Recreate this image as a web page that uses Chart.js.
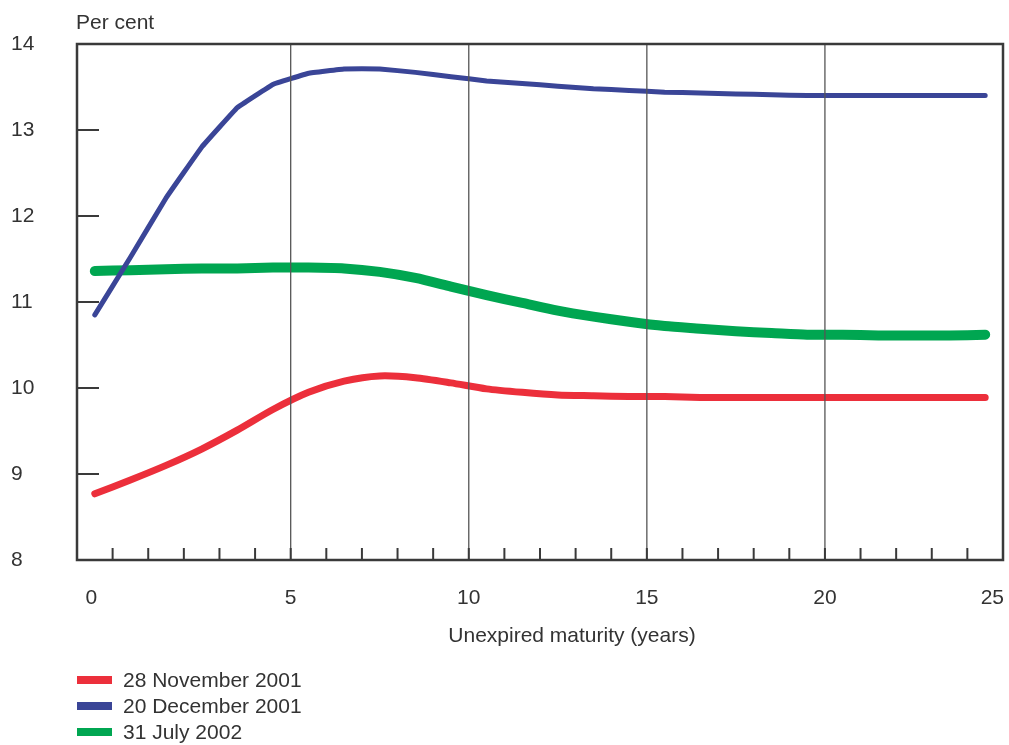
<!DOCTYPE html>
<html><head><meta charset="utf-8">
<script src="https://cdn.jsdelivr.net/npm/chart.js@4"></script>
<style>
html,body{margin:0;padding:0;background:#fff;}
#wrap{position:relative;width:1009px;height:745px;}
#legend{position:absolute;left:77px;top:667px;font:21px "Liberation Sans",Arial,sans-serif;color:#333;}
.item{display:flex;align-items:center;height:26px;white-space:nowrap;}
.sw{width:35px;height:8px;margin-right:11px;}
</style></head>
<body><div id="wrap"><canvas id="c" width="1009" height="745"></canvas><div id="legend"></div></div>
<script>
// x positions of the curve points (years, as plotted)
const maturities = [-0.5,0.5,1.5,2.5,3.5,4.5,5.5,6.5,7.5,8.5,9.5,10.5,11.5,12.5,13.5,14.5,15.5,16.5,17.5,18.5,19.5,20.5,21.5,22.5,23.5,24.5];
const seriesNames = ['28 November 2001','20 December 2001','31 July 2002'];
const seriesColors = ['#ec2f3b','#3a4597','#00a651'];
const nov2001 = [8.77,8.93,9.10,9.29,9.51,9.75,9.95,10.08,10.14,10.12,10.06,9.99,9.95,9.92,9.91,9.90,9.90,9.89,9.89,9.89,9.89,9.89,9.89,9.89,9.89,9.89];
const dec2001 = [10.85,11.52,12.21,12.80,13.26,13.53,13.66,13.71,13.71,13.67,13.62,13.57,13.54,13.51,13.48,13.46,13.44,13.43,13.42,13.41,13.40,13.40,13.40,13.40,13.40,13.40];
const jul2002 = [11.36,11.37,11.38,11.39,11.39,11.40,11.40,11.39,11.35,11.28,11.18,11.08,10.99,10.90,10.83,10.77,10.72,10.69,10.66,10.64,10.62,10.62,10.61,10.61,10.61,10.62];
const xTickLabels = [0,5,10,15,20,25];
const yTicks = [8,9,10,11,12,13,14];
const yUnit = 'Per cent';
const xTitle = 'Unexpired maturity (years)';

const FONT = '"Liberation Sans", Arial, sans-serif';
Chart.defaults.font.family = FONT;
Chart.defaults.font.size = 21;
Chart.defaults.color = '#333';

const seriesData = [nov2001, dec2001, jul2002];
const widths = [7, 5, 10];
const orders = [2, 0, 1];

// HTML legend
const lg = document.getElementById('legend');
seriesNames.forEach((n,i)=>{
  const d = document.createElement('div'); d.className='item';
  const s = document.createElement('span'); s.className='sw'; s.style.background = seriesColors[i];
  const t = document.createElement('span'); t.textContent = n;
  d.appendChild(s); d.appendChild(t); lg.appendChild(d);
});

const framePlugin = {
  id: 'frame',
  afterDatasetsDraw(chart) {
    const {ctx, chartArea:{left,right,top,bottom}, scales:{x,y}} = chart;
    ctx.save();
    ctx.strokeStyle = '#555'; ctx.lineWidth = 1.3;
    xTickLabels.slice(1,-1).forEach(v=>{
      const px = x.getPixelForValue(v);
      ctx.beginPath(); ctx.moveTo(px, top); ctx.lineTo(px, bottom); ctx.stroke();
    });
    ctx.strokeStyle = '#3a3a3a'; ctx.lineWidth = 2;
    for (let v = Math.ceil(x.min)+1; v < x.max; v++) {
      const px = x.getPixelForValue(v);
      ctx.beginPath(); ctx.moveTo(px, bottom); ctx.lineTo(px, bottom-12); ctx.stroke();
    }
    yTicks.forEach(v=>{
      const py = y.getPixelForValue(v);
      ctx.beginPath(); ctx.moveTo(left, py); ctx.lineTo(left+22, py); ctx.stroke();
    });
    ctx.lineWidth = 2.5; ctx.strokeStyle = '#3a3a3a';
    ctx.strokeRect(left, top, right-left, bottom-top);
    ctx.restore();
  },
  afterDraw(chart) {
    const {ctx, chartArea:{left,right,bottom}} = chart;
    ctx.save();
    ctx.fillStyle = '#333';
    ctx.font = '21px ' + FONT;
    ctx.textAlign = 'left'; ctx.textBaseline = 'alphabetic';
    ctx.fillText(yUnit, left - 1, 29);
    ctx.textAlign = 'center'; ctx.textBaseline = 'middle';
    ctx.fillText(xTitle, (left+right)/2 + 32, bottom + 76);
    ctx.restore();
  }
};

new Chart(document.getElementById('c'), {
  type: 'line',
  data: {
    labels: maturities,
    datasets: seriesNames.map((n,i)=>({
      label: n,
      data: maturities.map((m,k)=>({x:m, y:seriesData[i][k]})),
      borderColor: seriesColors[i],
      backgroundColor: seriesColors[i],
      borderWidth: widths[i],
      pointRadius: 0,
      tension: i===1 ? 0.05 : 0.25,
      borderCapStyle: 'round',
      borderJoinStyle: 'round',
      order: orders[i],
      fill: false
    }))
  },
  options: {
    responsive: false,
    animation: false,
    layout: { autoPadding: false, padding: { left: 11, top: 44, right: 6, bottom: 95 } },
    plugins: { legend: { display: false }, tooltip: { enabled: false }, title: { display: false } },
    scales: {
      x: {
        type: 'linear', min: -1, max: 25,
        grid: { display: false }, border: { display: false },
        afterBuildTicks: s => {
          const n = xTickLabels.length;
          s.ticks = xTickLabels.map((v,i)=>({ value: i===0 ? v-0.6 : (i===n-1 ? v-0.3 : v) }));
        },
        afterFit: s => { s.height = 90; s.paddingLeft = 0; s.paddingRight = 0; },
        ticks: { autoSkip: false, maxRotation: 0, padding: 18,
          callback: (v, i) => String(xTickLabels[i]) }
      },
      y: {
        min: 8, max: 14,
        grid: { display: false }, border: { display: false },
        afterFit: s => { s.width = 66; s.paddingTop = 0; s.paddingBottom = 0; },
        ticks: { stepSize: 1, crossAlign: 'far', padding: 0 }
      }
    }
  },
  plugins: [framePlugin]
});
</script>
</body></html>
